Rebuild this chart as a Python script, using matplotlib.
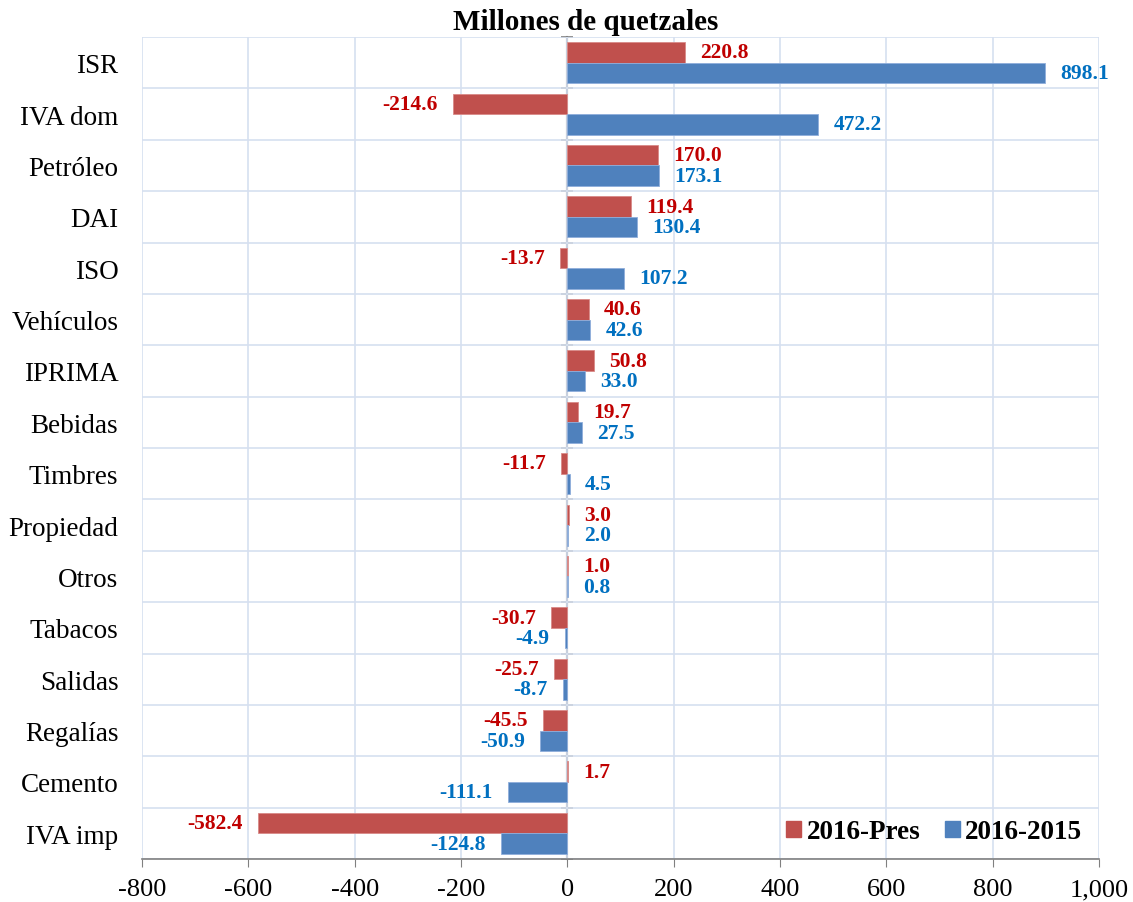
import matplotlib
matplotlib.use("Agg")
import matplotlib.pyplot as plt
import numpy as np
from matplotlib.patches import Patch

categories = ["ISR", "IVA dom", "Petróleo", "DAI", "ISO", "Vehículos", "IPRIMA",
              "Bebidas", "Timbres", "Propiedad", "Otros", "Tabacos", "Salidas",
              "Regalías", "Cemento", "IVA imp"]
pres_vals = [220.8, -214.6, 170.0, 119.4, -13.7, 40.6, 50.8, 19.7, -11.7, 3.0,
             1.0, -30.7, -25.7, -45.5, 1.7, -582.4]
prev_vals = [898.1, 472.2, 173.1, 130.4, 107.2, 42.6, 33.0, 27.5, 4.5, 2.0,
             0.8, -4.9, -8.7, -50.9, -111.1, -124.8]
series_names = ["2016-Pres", "2016-2015"]
xticks = [-800, -600, -400, -200, 0, 200, 400, 600, 800, 1000]
title = "Millones de quetzales"

red = "#C0504D"
blue = "#4F81BD"
red_txt = "#C00000"
blue_txt = "#0070C0"
grid_c = "#D6E0F0"
serif = ["Liberation Serif", "DejaVu Serif"]

plt.rcParams["font.family"] = serif

fig = plt.figure(figsize=(11.33, 9.03), dpi=100)
ax = fig.add_axes([142 / 1133, 1 - 860 / 903, (1099 - 142) / 1133, (860 - 38) / 903])

n = len(categories)
y = np.arange(n)
h = 0.4
ax.barh(y - h / 2, pres_vals, height=h, color=red, edgecolor="#D98A88", linewidth=0.6, zorder=3)
ax.barh(y + h / 2, prev_vals, height=h, color=blue, edgecolor="#8FAEDB", linewidth=0.6, zorder=3)

lab_fs = 15.5
for yi, v in zip(y, pres_vals):
    off = 11 if v >= 0 else -11
    ax.annotate(f"{v:.1f}", (v, yi - h / 2), xytext=(off, 0), textcoords="offset points",
                ha="left" if v >= 0 else "right", va="center", color=red_txt,
                fontsize=lab_fs, fontweight="bold", zorder=5)
for yi, v in zip(y, prev_vals):
    off = 11 if v >= 0 else -11
    ax.annotate(f"{v:.1f}", (v, yi + h / 2), xytext=(off, 0), textcoords="offset points",
                ha="left" if v >= 0 else "right", va="center", color=blue_txt,
                fontsize=lab_fs, fontweight="bold", zorder=5, annotation_clip=False)

ax.set_xlim(-800, 1000)
ax.set_ylim(n - 0.5, -0.5)
ax.set_xticks(xticks)
ax.set_xticklabels([f"{t:,}" for t in xticks], fontsize=19)
ax.set_yticks(y)
ax.set_yticklabels(categories, fontsize=19.5)
ax.set_yticks(np.arange(n + 1) - 0.5, minor=True)
ax.tick_params(axis="y", which="both", length=0, pad=17)
ax.tick_params(axis="x", which="major", length=6, color="#808080", pad=8)

ax.grid(True, axis="x", which="major", color=grid_c, linewidth=1.2, zorder=0)
ax.grid(True, axis="y", which="minor", color=grid_c, linewidth=1.2, zorder=0)
for s in ["top", "right", "left"]:
    ax.spines[s].set_visible(False)
ax.spines["bottom"].set_color("#808080")
ax.spines["bottom"].set_linewidth(1.2)

# category axis at x = 0
sec = ax.secondary_yaxis(800 / 1800)
sec.spines["right"].set_visible(False)
sec.spines["left"].set_color("#808080")
sec.spines["left"].set_linewidth(1.5)
sec.set_yticks(np.arange(n + 1) - 0.5)
sec.set_yticklabels([])
sec.tick_params(axis="y", length=8, direction="inout", color="#808080", width=1.2)

handles = [Patch(facecolor=red, edgecolor=red), Patch(facecolor=blue, edgecolor=blue)]
leg = ax.legend(handles, series_names, loc="lower right", frameon=False,
                prop={"family": serif, "size": 19.5, "weight": "bold"},
                ncol=2, handlelength=0.55, handleheight=0.55, handletextpad=0.2,
                columnspacing=0.9, bbox_to_anchor=(1.008, -0.012))

fig.text(586 / 1133, 1 - 23 / 903, title, ha="center", va="center",
         fontsize=21, fontweight="bold")

fig.savefig("out.png", dpi=100)
